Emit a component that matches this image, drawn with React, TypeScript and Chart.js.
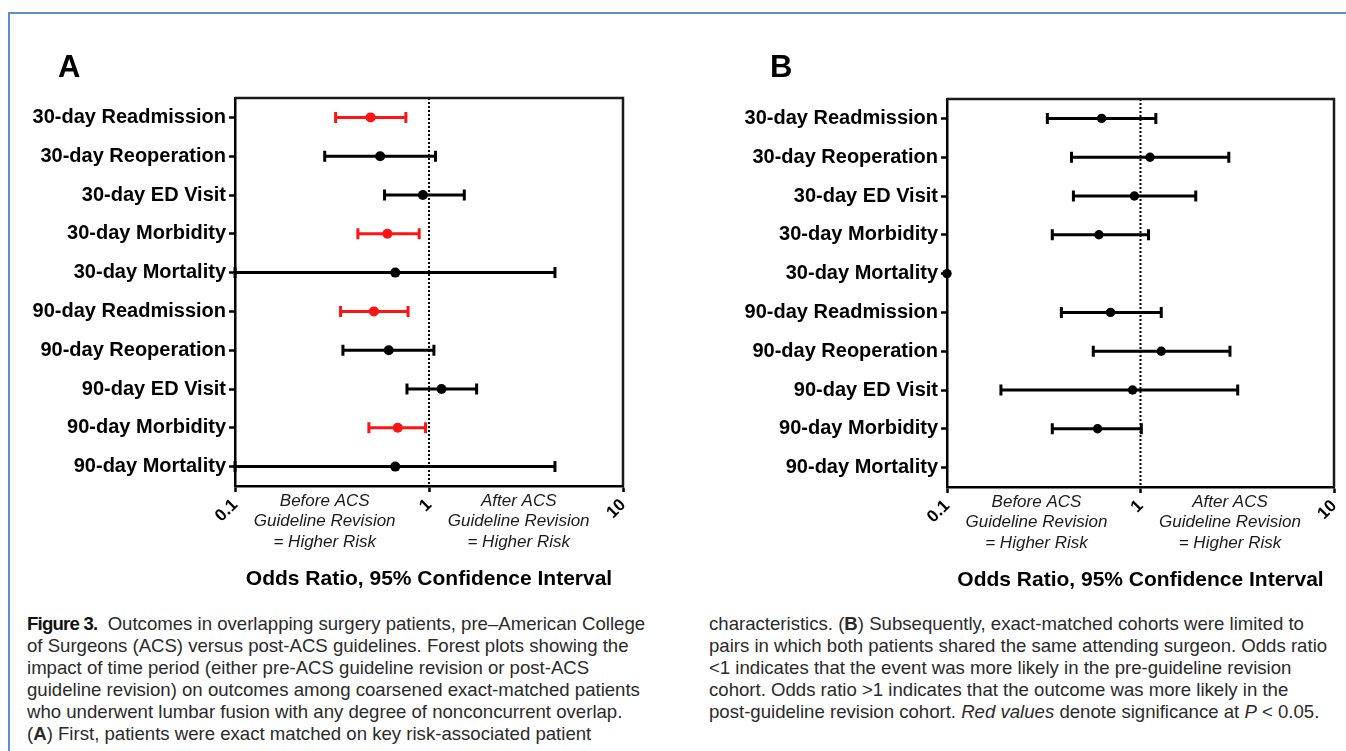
import React, { useEffect, useRef } from 'react';
import { Chart, registerables } from 'chart.js';

Chart.register(...registerables);

const FONT = '"Liberation Sans", Arial, Helvetica, sans-serif';
const RED = '#ff1414';

const categories = [
  '30-day Readmission',
  '30-day Reoperation',
  '30-day ED Visit',
  '30-day Morbidity',
  '30-day Mortality',
  '90-day Readmission',
  '90-day Reoperation',
  '90-day ED Visit',
  '90-day Morbidity',
  '90-day Mortality',
];

// Panel A: odds ratio and 95% CI
const orA = [0.5, 0.56, 0.93, 0.61, 0.67, 0.52, 0.62, 1.16, 0.69, 0.67];
const lowA = [0.33, 0.29, 0.59, 0.43, 0.1, 0.35, 0.36, 0.77, 0.49, 0.1];
const highA = [0.76, 1.08, 1.52, 0.89, 4.46, 0.78, 1.06, 1.76, 0.96, 4.46];
const sigA = [true, false, false, true, false, true, false, false, true, false];

// Panel B: odds ratio and 95% CI
const orB = [0.63, 1.12, 0.93, 0.61, 0.1, 0.7, 1.28, 0.91, 0.6, null];
const lowB = [0.33, 0.44, 0.45, 0.35, null, 0.39, 0.57, 0.19, 0.35, null];
const highB = [1.2, 2.86, 1.93, 1.1, null, 1.28, 2.9, 3.18, 1.01, null];
const sigB = [false, false, false, false, false, false, false, false, false, false];

const xTickValues = [0.1, 1, 10];
const referenceValue = 1;
const annotationAnchors = [0.29, 2.9];
const annotationLeft = ['Before ACS', 'Guideline Revision', '= Higher Risk'];
const annotationRight = ['After ACS', 'Guideline Revision', '= Higher Risk'];
const xAxisTitle = 'Odds Ratio, 95% Confidence Interval';

type PanelCfg = {
  label: string;
  labelX: number;
  or: (number | null)[];
  low: (number | null)[];
  high: (number | null)[];
  sig: boolean[];
  width: number;
  height: number;
  padTop: number;
  padRight: number;
  yAxisWidth: number;
  xAxisHeight: number;
  titlePadBottom: number;
  pointRadius: number;
};

function makePlugin(cfg: PanelCfg) {
  return {
    id: 'forest' + cfg.label,
    beforeDatasetsDraw(chart: any) {
      const { ctx, chartArea } = chart;
      const x = chart.scales.x;
      const y = chart.scales.y;
      ctx.save();
      // reference dotted line
      const xr = x.getPixelForValue(referenceValue);
      ctx.beginPath();
      ctx.setLineDash([2, 2]);
      ctx.lineWidth = 2;
      ctx.strokeStyle = '#000';
      ctx.moveTo(xr, chartArea.top);
      ctx.lineTo(xr, chartArea.bottom);
      ctx.stroke();
      ctx.setLineDash([]);
      // error bars
      cfg.low.forEach((lo, i) => {
        const hi = cfg.high[i];
        if (lo == null || hi == null) return;
        const yp = y.getPixelForValue(i);
        const x1 = x.getPixelForValue(lo);
        const x2 = x.getPixelForValue(hi);
        ctx.strokeStyle = cfg.sig[i] ? RED : '#000';
        ctx.lineWidth = 3;
        ctx.beginPath();
        ctx.moveTo(x1, yp);
        ctx.lineTo(x2, yp);
        ctx.moveTo(x1, yp - 5.5);
        ctx.lineTo(x1, yp + 5.5);
        ctx.moveTo(x2, yp - 5.5);
        ctx.lineTo(x2, yp + 5.5);
        ctx.stroke();
      });
      ctx.restore();
    },
    afterDraw(chart: any) {
      const { ctx, chartArea } = chart;
      const x = chart.scales.x;
      ctx.save();
      // top and right frame
      ctx.strokeStyle = '#1a1a1a';
      ctx.lineWidth = 2.5;
      ctx.beginPath();
      ctx.moveTo(chartArea.left, chartArea.top);
      ctx.lineTo(chartArea.right, chartArea.top);
      ctx.lineTo(chartArea.right, chartArea.bottom);
      ctx.stroke();
      // panel label
      ctx.fillStyle = '#000';
      ctx.font = `bold 31px ${FONT}`;
      ctx.textAlign = 'left';
      ctx.textBaseline = 'alphabetic';
      ctx.fillText(cfg.label, cfg.labelX, 77);
      // annotations
      ctx.font = `italic 17px ${FONT}`;
      ctx.fillStyle = '#1a1a1a';
      ctx.textAlign = 'center';
      ctx.textBaseline = 'middle';
      [annotationLeft, annotationRight].forEach((lines, k) => {
        const cx = x.getPixelForValue(annotationAnchors[k]);
        lines.forEach((t, j) => {
          ctx.fillText(t, cx, chartArea.bottom + 15 + j * 20.5);
        });
      });
      ctx.restore();
    },
  };
}

function ForestPanel({ cfg, left }: { cfg: PanelCfg; left: number }) {
  const ref = useRef<HTMLCanvasElement | null>(null);
  useEffect(() => {
    if (!ref.current) return;
    const idx = cfg.or.map((v, i) => i).filter((i) => cfg.or[i] != null);
    const chart = new Chart(ref.current, {
      type: 'scatter',
      data: {
        datasets: [
          {
            data: idx.map((i) => ({ x: cfg.or[i] as number, y: categories[i] })) as any,
            pointRadius: cfg.pointRadius,
            pointHoverRadius: cfg.pointRadius,
            pointBorderWidth: 0,
            pointBackgroundColor: idx.map((i) => (cfg.sig[i] ? RED : '#000')),
            pointBorderColor: idx.map((i) => (cfg.sig[i] ? RED : '#000')),
            clip: false as any,
          },
        ],
      },
      options: {
        animation: false,
        responsive: false,
        maintainAspectRatio: false,
        events: [],
        layout: { padding: { top: cfg.padTop, left: 0, right: cfg.padRight, bottom: 0 } },
        plugins: {
          legend: { display: false },
          tooltip: { enabled: false },
          title: { display: false },
        },
        scales: {
          x: {
            type: 'logarithmic',
            min: 0.1,
            max: 10,
            afterBuildTicks: (s: any) => {
              s.ticks = xTickValues.map((v) => ({ value: v }));
            },
            afterFit: (s: any) => {
              s.height = cfg.xAxisHeight;
              s.paddingLeft = 0;
              s.paddingRight = 0;
            },
            ticks: {
              autoSkip: false,
              minRotation: 45,
              maxRotation: 45,
              padding: 3,
              color: '#000',
              font: { family: FONT, size: 17, weight: 'bold' },
              callback: (v: any) => String(v),
            },
            grid: {
              display: true,
              drawOnChartArea: false,
              drawTicks: true,
              tickLength: 6,
              tickWidth: 2.5,
              tickColor: '#000',
            },
            border: { display: true, color: '#000', width: 2.5 },
            title: {
              display: true,
              text: xAxisTitle,
              color: '#000',
              font: { family: FONT, size: 21, weight: 'bold' },
              padding: { top: 0, bottom: cfg.titlePadBottom },
            },
          } as any,
          y: {
            type: 'category',
            labels: categories,
            offset: true,
            afterFit: (s: any) => {
              s.width = cfg.yAxisWidth;
              s.paddingTop = 0;
              s.paddingBottom = 0;
            },
            ticks: {
              autoSkip: false,
              padding: 3,
              color: '#000',
              font: { family: FONT, size: 20, weight: 'bold' },
            },
            grid: {
              display: true,
              drawOnChartArea: false,
              drawTicks: true,
              tickLength: 6,
              tickWidth: 2.5,
              tickColor: '#000',
              offset: false,
            },
            border: { display: true, color: '#000', width: 2.5 },
          } as any,
        },
      },
      plugins: [makePlugin(cfg)],
    });
    return () => chart.destroy();
  }, []);
  return (
    <canvas
      ref={ref}
      width={cfg.width}
      height={cfg.height}
      style={{ position: 'absolute', left, top: 0, width: cfg.width, height: cfg.height }}
    />
  );
}

const panelA: PanelCfg = {
  label: 'A',
  labelX: 58,
  or: orA,
  low: lowA,
  high: highA,
  sig: sigA,
  width: 680,
  height: 600,
  padTop: 98,
  padRight: 57,
  yAxisWidth: 235,
  xAxisHeight: 114,
  titlePadBottom: 8,
  pointRadius: 5,
};

const panelB: PanelCfg = {
  label: 'B',
  labelX: 90,
  or: orB,
  low: lowB,
  high: highB,
  sig: sigB,
  width: 666,
  height: 600,
  padTop: 99,
  padRight: 12,
  yAxisWidth: 267,
  xAxisHeight: 113,
  titlePadBottom: 7,
  pointRadius: 4.7,
};

const captionStyle: React.CSSProperties = {
  position: 'absolute',
  top: 613,
  fontFamily: FONT,
  fontSize: 18.6,
  lineHeight: '22px',
  color: '#2a2a2a',
  whiteSpace: 'nowrap',
};

const figLabelStyle: React.CSSProperties = { letterSpacing: '-0.8px', color: '#111' };

export default function App() {
  return (
    <div
      style={{
        position: 'absolute',
        left: 0,
        top: 0,
        width: 1346,
        height: 751,
        overflow: 'hidden',
        background: '#fff',
      }}
    >
      <div
        style={{
          position: 'absolute',
          left: 8,
          top: 12,
          width: 2000,
          height: 2000,
          borderTop: '2px solid #5b8fd0',
          borderLeft: '2px solid #5b8fd0',
        }}
      />
      <ForestPanel cfg={panelA} left={0} />
      <ForestPanel cfg={panelB} left={680} />
      <div style={{ ...captionStyle, left: 27 }}>
        <div>
          <b style={figLabelStyle}>Figure 3.</b>&nbsp; Outcomes in overlapping surgery patients, pre–American College
        </div>
        <div>of Surgeons (ACS) versus post-ACS guidelines. Forest plots showing the</div>
        <div>impact of time period (either pre-ACS guideline revision or post-ACS</div>
        <div>guideline revision) on outcomes among coarsened exact-matched patients</div>
        <div>who underwent lumbar fusion with any degree of nonconcurrent overlap.</div>
        <div>
          (<b>A</b>) First, patients were exact matched on key risk-associated patient
        </div>
      </div>
      <div style={{ ...captionStyle, left: 709 }}>
        <div>
          characteristics. (<b>B</b>) Subsequently, exact-matched cohorts were limited to
        </div>
        <div>pairs in which both patients shared the same attending surgeon. Odds ratio</div>
        <div>&lt;1 indicates that the event was more likely in the pre-guideline revision</div>
        <div>cohort. Odds ratio &gt;1 indicates that the outcome was more likely in the</div>
        <div>
          post-guideline revision cohort. <i>Red values</i> denote significance at <i>P</i> &lt; 0.05.
        </div>
      </div>
    </div>
  );
}
